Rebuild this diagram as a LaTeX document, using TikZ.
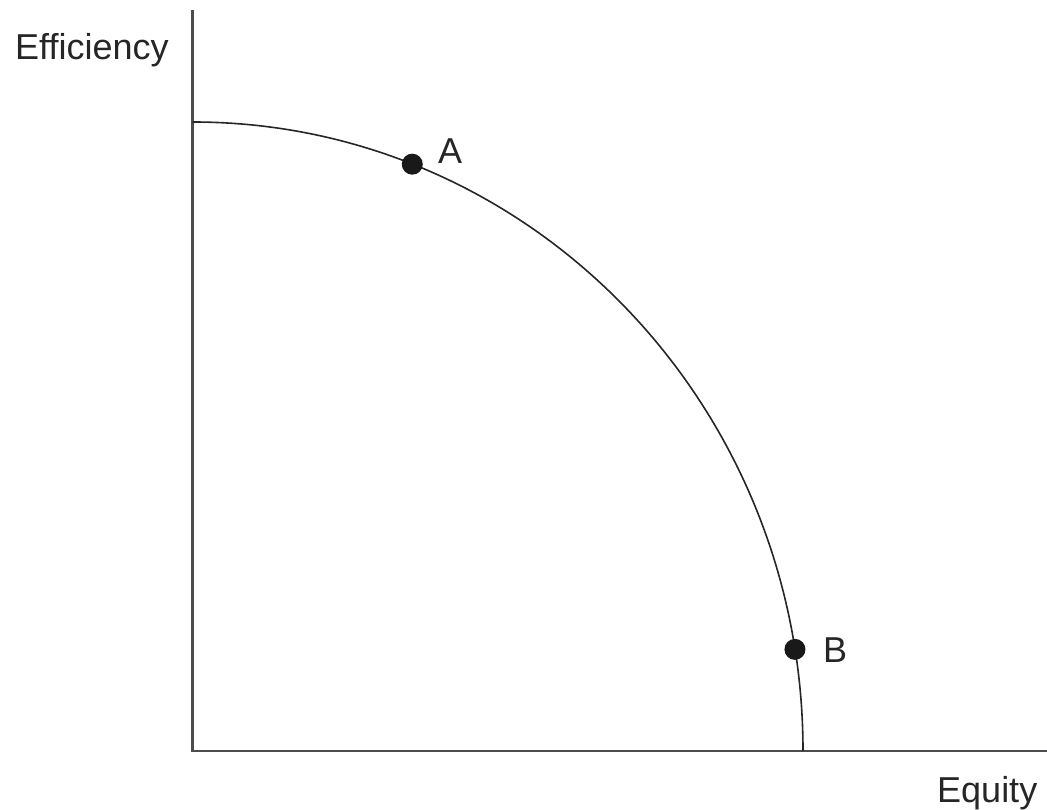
\documentclass[tikz,border=0pt]{standalone}
\usepackage{fontspec}
\setmainfont{Liberation Sans}
\usetikzlibrary{calc}
\begin{document}
\begin{tikzpicture}[x=1pt,y=1pt,
  axis/.style={line width=2.2pt,draw=black!70},
  frontier/.style={line width=1.6pt,draw=black!85},
  dot/.style={circle,fill=black!90,inner sep=0pt,minimum size=21pt},
  lbl/.style={inner sep=0pt,anchor=base west,text=black!85,font=\fontsize{36}{43}\selectfont}]
\useasboundingbox (0,0) rectangle (1047,809);
\coordinate (O) at (192.5,58);
\coordinate (ytop) at (192.5,799);
\coordinate (xend) at (1047,58);
\draw[axis] (ytop) -- (O) -- (xend);
\coordinate (C0) at (192.5,687);
\draw[frontier] (C0) arc[start angle=90,end angle=0,x radius=610.5,y radius=629];
\node[dot] (A) at ($(O)+(68.9:610.5 and 629)$) {};
\node[dot] (B) at ($(O)+(9.3:610.5 and 629)$) {};
\node[lbl] (lA) at (438,645) {A};
\node[lbl] (lB) at (823,146) {B};
\node[lbl] (lEff) at (15,749) {Efficiency};
\node[lbl] (lEq) at (937,7) {Equity};
\end{tikzpicture}
\end{document}
